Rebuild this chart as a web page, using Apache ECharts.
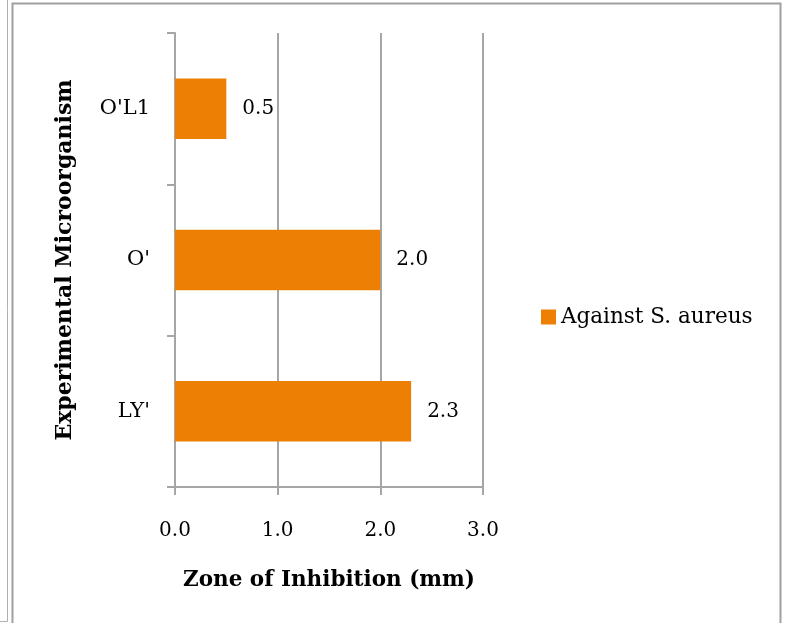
<!DOCTYPE html>
<html>
<head>
<meta charset="utf-8">
<script src="https://cdn.jsdelivr.net/npm/echarts@6/dist/echarts.min.js"></script>
<style>
  html, body { margin: 0; padding: 0; background: #fff; }
  #chart { width: 788px; height: 623px; }
</style>
</head>
<body>
<div id="chart"></div>
<script>
// Microorganisms, listed bottom to top on the category axis
const organisms = ["LY'", "O'", "O'L1"];
// Zone of inhibition against S. aureus (mm)
const inhibition = [2.3, 2.0, 0.5];
const seriesName = 'Against S. aureus';
const xTicks = [0, 1, 2, 3];

const FONT = 'DejaVu Serif';
const AXIS_GREY = '#a6a6a6';

const chart = echarts.init(document.getElementById('chart'));
chart.setOption({
  animation: false,
  backgroundColor: '#fff',
  graphic: [
    { type: 'line', shape: { x1: 7.5, y1: 0, x2: 7.5, y2: 621.5 }, style: { stroke: '#b0b0b0', lineWidth: 1 } },
    { type: 'line', shape: { x1: 0, y1: 621.5, x2: 7.5, y2: 621.5 }, style: { stroke: '#b0b0b0', lineWidth: 1 } },
    { type: 'rect', shape: { x: 12.5, y: 3.5, width: 768, height: 640 }, style: { fill: 'none', stroke: '#a0a0a0', lineWidth: 2 } }
  ],
  grid: { left: 175, right: 305, top: 33, bottom: 136 },
  legend: {
    left: 536, top: 301,
    orient: 'vertical',
    icon: 'rect',
    itemWidth: 15, itemHeight: 15, itemGap: 6,
    textStyle: { fontFamily: FONT, fontSize: 21.5, color: '#000' },
    data: [seriesName]
  },
  xAxis: {
    type: 'value',
    min: xTicks[0], max: xTicks[xTicks.length - 1], interval: 1,
    name: 'Zone of Inhibition (mm)',
    nameLocation: 'middle', nameGap: 82,
    nameTextStyle: { fontFamily: FONT, fontSize: 21.5, fontWeight: 'bold', color: '#000' },
    axisLine: { show: true, lineStyle: { color: AXIS_GREY, width: 2 } },
    axisTick: { show: true, length: 8, lineStyle: { color: AXIS_GREY, width: 2 } },
    axisLabel: { fontFamily: FONT, fontSize: 20, color: '#000', margin: 34, formatter: v => v.toFixed(1) },
    splitLine: { show: true, lineStyle: { color: AXIS_GREY, width: 2 } }
  },
  yAxis: {
    type: 'category',
    data: organisms,
    name: 'Experimental Microorganism',
    nameLocation: 'middle', nameGap: 99,
    nameTextStyle: { fontFamily: FONT, fontSize: 22, fontWeight: 'bold', color: '#000' },
    axisLine: { show: true, lineStyle: { color: AXIS_GREY, width: 2 } },
    axisTick: { show: true, length: 8, alignWithLabel: false, lineStyle: { color: AXIS_GREY, width: 2 } },
    axisLabel: { fontFamily: FONT, fontSize: 21, color: '#000', margin: 25 }
  },
  series: [{
    name: seriesName,
    type: 'bar',
    data: inhibition,
    barWidth: '40%',
    itemStyle: { color: '#ED8004' },
    label: {
      show: true, position: 'right', distance: 16,
      fontFamily: FONT, fontSize: 20, color: '#000',
      formatter: p => p.value.toFixed(1)
    }
  }]
});
</script>
</body>
</html>
